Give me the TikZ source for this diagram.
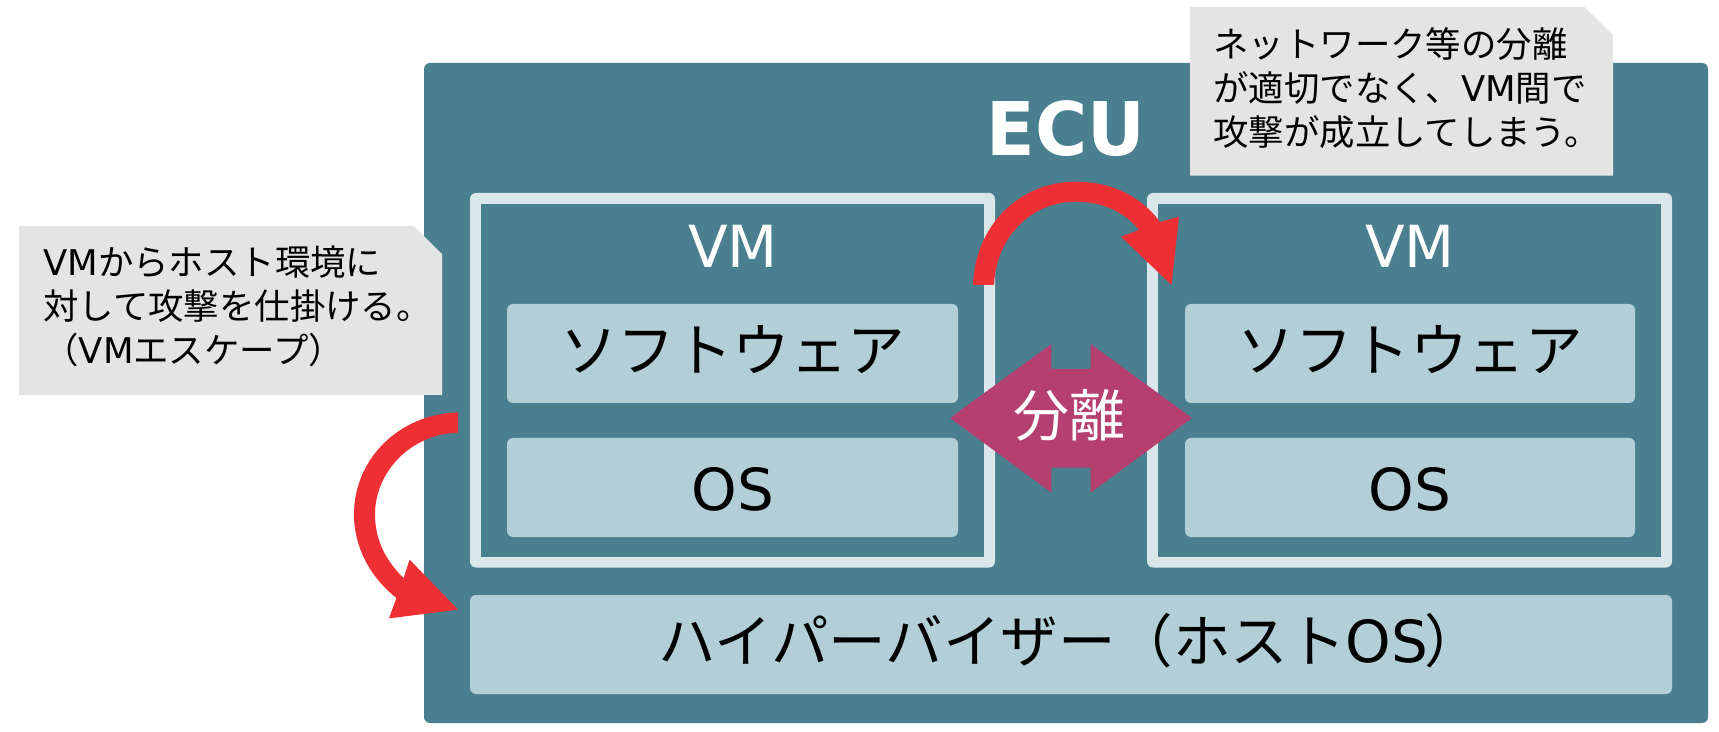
\documentclass[tikz,border=0pt]{standalone}
\usepackage{fontspec}
\setmainfont{DejaVu Sans}
\newfontfamily\ecufont{DejaVu Sans}[FakeStretch=0.96]
\newfontfamily\jp{Noto Sans CJK JP}
\newcommand{\bigjp}{\jp\fontsize{28.75pt}{29pt}\selectfont}
\definecolor{ecuteal}{HTML}{4A7F90}
\definecolor{softblue}{HTML}{B2CFD8}
\definecolor{framepale}{HTML}{D9E7EB}
\definecolor{notegray}{HTML}{E4E4E4}
\definecolor{attackred}{HTML}{EE3035}
\definecolor{sepmagenta}{HTML}{B54070}
\tikzset{
  ecubox/.style={fill=ecuteal,rounded corners=3pt},
  vmframe/.style={fill=framepale,rounded corners=3pt},
  vminner/.style={fill=ecuteal},
  layerbox/.style={fill=softblue,rounded corners=3pt},
  notebox/.style={fill=notegray},
  bigdark/.style={anchor=base,inner sep=0pt,text=black,font=\fontsize{29pt}{29pt}\selectfont},
  bigwhite/.style={anchor=base,inner sep=0pt,text=white,font=\fontsize{29pt}{29pt}\selectfont},
  notetext/.style={anchor=north west,inner sep=0pt,text=black,align=left,font=\fontsize{17.7pt}{22pt}\selectfont},
  attack/.style={fill=attackred},
  sepshape/.style={fill=sepmagenta},
}
\begin{document}
\begin{tikzpicture}[x=0.5pt,y=-0.5pt]
\useasboundingbox (0,0) rectangle (1719,732);
% ECU
\fill[ecubox] (424,63) rectangle (1708,723);
\node[anchor=base,inner sep=0pt,text=white,font=\ecufont\bfseries\fontsize{37pt}{37pt}\selectfont] (ecu) at (1066,155.3) {ECU};
% VMs
\fill[vmframe] (470,193) rectangle (995,567.5);
\fill[vminner] (481,204) rectangle (984,556.7);
\fill[vmframe] (1147,193) rectangle (1672,567.5);
\fill[vminner] (1158,204) rectangle (1661,556.7);
\node[bigwhite] (vma) at (733,268) {VM};
\node[bigwhite] (vmb) at (1410,268) {VM};
% layers
\fill[layerbox] (507,304) rectangle (958,403);
\fill[layerbox] (507,438) rectangle (958,537);
\fill[layerbox] (1185,304) rectangle (1635,403);
\fill[layerbox] (1185,438) rectangle (1635,537);
\fill[layerbox] (470,595) rectangle (1672,694);
\node[bigdark] (swa) at (732.5,371.5) {\bigjp ソフトウェア};
\node[bigdark] (swb) at (1410,371.5) {\bigjp ソフトウェア};
\node[bigdark] (osa) at (733,510) {OS};
\node[bigdark] (osb) at (1410,510) {OS};
\node[bigdark] (hyp) at (1070,662) {{\bigjp ハイパーバイザー（ホスト}OS\hspace{-2pt}{\bigjp ）}};
% notes
\fill[notebox] (19,225.8) -- (413.6,225.8) -- (442,254) -- (442,395) -- (19,395) -- cycle;
\node[notetext] (notea) at (43,245) {VM{\jp からホスト環境に}\\{\jp 対して攻撃を仕掛ける。}\\{\jp （}VM{\jp エスケープ）}};
\fill[notebox] (1190,7) -- (1584.6,7) -- (1613,35) -- (1613,175.7) -- (1190,175.7) -- cycle;
\node[notetext] (noteb) at (1213,27) {{\jp ネットワーク等の分離}\\{\jp が適切でなく、}VM{\jp 間で}\\{\jp 攻撃が成立してしまう。}};
% separation
\fill[sepshape] (950,418) -- (1051.4,344) -- (1051.4,369) -- (1090.6,369) -- (1090.6,344) -- (1192,418) -- (1090.6,492.7) -- (1090.6,467.7) -- (1051.4,467.7) -- (1051.4,492.7) -- cycle;
\node[anchor=base,inner sep=0pt,text=white,font=\fontsize{28pt}{28pt}\selectfont] (sep) at (1069,437) {\jp 分離};
% attack arrows
\coordinate (topA) at (973,285);
\coordinate (topB) at (994,285);
\coordinate (topTip) at (1171.5,285);
\fill[attack] (topA) .. controls (975,225) and (1020,181.7) .. (1076,181.7) .. controls (1112,181.7) and (1142,197) .. (1160,222) -- (1179,216.7) -- (topTip) -- (1121,236.7) -- (1139,230) .. controls (1125,212) and (1102,201.7) .. (1076,201.7) .. controls (1030,201.7) and (996,238) .. (topB) -- cycle;
\coordinate (lefA) at (458,412.4);
\coordinate (lefB) at (458,432.8);
\coordinate (lefTip) at (458,609.6);
\fill[attack] (lefA) .. controls (400,414) and (354,458) .. (354,514.5) .. controls (354,547) and (370,577) .. (396.4,598) -- (389,618.4) -- (lefTip) -- (409.6,559.6) -- (403.6,578) .. controls (386,561) and (375,540) .. (375,514.5) .. controls (375,471) and (412,433.5) .. (lefB) -- cycle;
\end{tikzpicture}
\end{document}
